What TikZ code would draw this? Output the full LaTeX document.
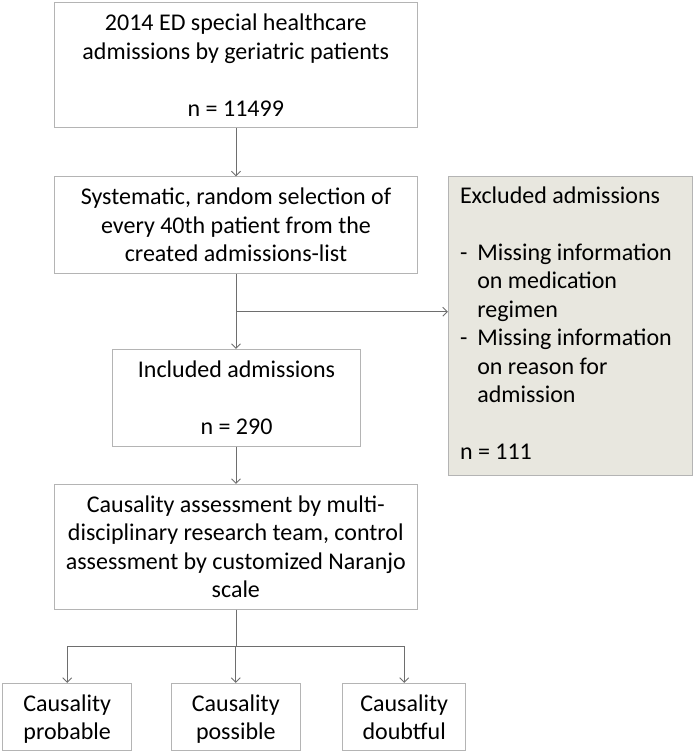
\documentclass[tikz,border=0pt]{standalone}
\usepackage{fontspec}
\setmainfont{Carlito}
\usetikzlibrary{arrows.meta}
\definecolor{boxline}{HTML}{B4B4B4}
\definecolor{arrline}{HTML}{6E6E6E}
\definecolor{exclfill}{HTML}{E8E7DF}
\tikzset{
  box/.style={draw=boxline, fill=white, line width=0.9pt, align=center, inner sep=0pt,
    text depth=0pt, font=\fontsize{24}{28.5}\selectfont},
  arr/.style={draw=arrline, line width=0.9pt, -{Straight Barb[length=4.5pt,width=9pt]}},
}
\begin{document}
\begin{tikzpicture}[x=1pt,y=-1pt]
    \useasboundingbox (0,0) rectangle (695,754);
    \node[box, minimum width=362.5pt, minimum height=125pt] (admissions) at (235.8,65.2)
      {2014 ED special healthcare\\ admissions by geriatric patients\\[28.5pt] n = 11499};
    \node[box, minimum width=363pt, minimum height=96.3pt] (selection) at (236,224.9)
      {Systematic, random selection of\\ every 40th patient from the\\ created admissions-list};
    \node[box, fill=exclfill, minimum width=244pt, minimum height=299pt] (excluded) at (570.3,325.5) {};
    \node[box, draw=none, fill=none, align=left, anchor=north west] (excltext)
      at ([xshift=11.7pt,yshift=-10.6pt]excluded.north west)
      {Excluded admissions\\[28.5pt]
       \makebox[17.3pt][l]{-}Missing information\\ \hspace*{17.3pt}on medication\\ \hspace*{17.3pt}regimen\\
       \makebox[17.3pt][l]{-}Missing information\\ \hspace*{17.3pt}on reason for\\ \hspace*{17.3pt}admission\\[28.5pt]
       n = 111};
    \node[box, minimum width=248.5pt, minimum height=96.7pt] (included) at (236.5,397.7)
      {Included admissions\\[28.5pt] n = 290};
    \node[box, minimum width=363pt, minimum height=124.7pt] (causality) at (235.8,546.7)
      {Causality assessment by multi-\\ disciplinary research team, control\\ assessment by customized Naranjo\\ scale};
    \node[box, minimum width=129pt, minimum height=67.4pt] (probable) at (67.2,717)
      {Causality\\ probable};
    \node[box, minimum width=128.3pt, minimum height=67.4pt] (possible) at (235.8,717)
      {Causality\\ possible};
    \node[box, minimum width=123pt, minimum height=67.4pt] (doubtful) at (404.2,717)
      {Causality\\ doubtful};
    % connectors
    \coordinate (split) at (236,311.7);
    \coordinate (fork) at (236,646.7);
    \draw[arr] (admissions.south -| split) -- (selection.north -| split);
    \draw[arr] (selection.south -| split) -- (included.north -| split);
    \draw[arr] (split) -- (split -| excluded.west);
    \draw[arr] (included.south -| split) -- (causality.north -| split);
    \draw[arrline, line width=0.9pt] (causality.south -| fork) -- (fork);
    \foreach \n in {probable,possible,doubtful}
    \draw[arr] (fork) -| (\n.north);
  \end{tikzpicture}
\end{document}
